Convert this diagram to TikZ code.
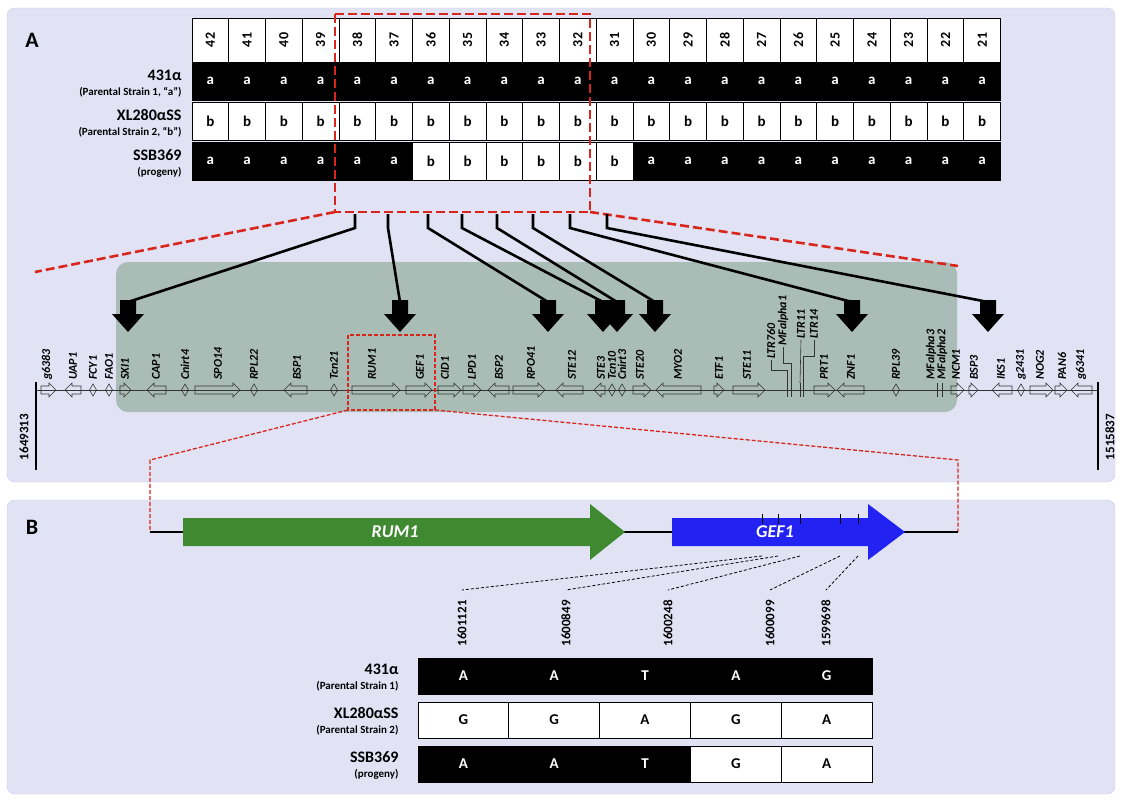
\documentclass[tikz,border=0pt]{standalone}
\usepackage{fontspec}
\setmainfont{Carlito}
\definecolor{panel}{HTML}{E1E3F5}
\definecolor{panelline}{HTML}{C9CCE6}
\definecolor{grbox}{HTML}{A9BCB5}
\definecolor{rumgreen}{HTML}{3F8A30}
\definecolor{gefblue}{HTML}{2222F2}
\definecolor{redd}{HTML}{D8261C}
\tikzset{
  cell/.style={draw=black,line width=0.8pt},
  blk/.style={cell,fill=black},
  wht/.style={cell,fill=white},
  gene/.style={draw=black!80,line width=0.6pt},
  glab/.style={rotate=90,anchor=west,inner sep=1pt,font=\bfseries\itshape\fontsize{12}{12}\selectfont},
  celltxt/.style={font=\bfseries\fontsize{15}{15}\selectfont},
  rowlab/.style={anchor=east,font=\bfseries\fontsize{16}{16}\selectfont},
  rowsub/.style={anchor=east,font=\bfseries\fontsize{11}{11}\selectfont},
  conn/.style={line width=2.6pt,black},
  redbox/.style={draw=redd,dash pattern=on 9pt off 4pt,line width=2.6pt},
  redthin/.style={draw=redd,dash pattern=on 4pt off 2pt,line width=1.3pt},
}
\newcommand\generight[2]{\draw[gene] (#1,386) -- ({max(#1,#2-7)},386) -- ({max(#1,#2-7)},383) -- (#2,390) -- ({max(#1,#2-7)},397) -- ({max(#1,#2-7)},394) -- (#1,394) -- cycle;}
\newcommand\geneleft[2]{\draw[gene] (#2,386) -- ({min(#2,#1+7)},386) -- ({min(#2,#1+7)},383) -- (#1,390) -- ({min(#2,#1+7)},397) -- ({min(#2,#1+7)},394) -- (#2,394) -- cycle;}
\newcommand\genedia[1]{\draw[gene] ({#1-3.5},390) -- (#1,384) -- ({#1+3.5},390) -- (#1,396) -- cycle;}
\newcommand\bigarrow[1]{\fill[black] ({#1-8},300) -- ({#1+8},300) -- ({#1+8},314) -- ({#1+16},314) -- (#1,332) -- ({#1-16},314) -- ({#1-8},314) -- cycle;}
\begin{document}
\begin{tikzpicture}[x=1pt,y=-1pt]
\useasboundingbox (0,0) rectangle (1122,800);
% panels
\draw[panelline,fill=panel,rounded corners=8pt] (7,8) rectangle (1115,482);
\draw[panelline,fill=panel,rounded corners=8pt] (7,500) rectangle (1115,794);
\node[font=\bfseries\fontsize{22}{22}\selectfont] (la) at (32,40) {A};
\node[font=\bfseries\fontsize{22}{22}\selectfont] (lb) at (32,527) {B};

% table A
\foreach \n [count=\i from 0] in {42,41,40,39,38,37,36,35,34,33,32,31,30,29,28,27,26,25,24,23,22,21} {
  \pgfmathsetmacro\xa{192+\i*36.75}
  \draw[wht] (\xa,18) rectangle ++(36.75,44);
  \node[rotate=90,font=\bfseries\fontsize{14}{14}\selectfont] at ({\xa+18.4},40) {\n};
  \draw[blk] (\xa,62) rectangle ++(36.75,38);
  \node[white,celltxt] at ({\xa+18.4},81) {a};
  \draw[wht] (\xa,102) rectangle ++(36.75,38);
  \node[celltxt] at ({\xa+18.4},121) {b};
  \ifnum\i<6 \draw[blk] (\xa,142) rectangle ++(36.75,38);
    \node[white,celltxt] at ({\xa+18.4},161) {a};
  \else\ifnum\i<12 \draw[wht] (\xa,142) rectangle ++(36.75,38);
    \node[celltxt] at ({\xa+18.4},161) {b};
  \else \draw[blk] (\xa,142) rectangle ++(36.75,38);
    \node[white,celltxt] at ({\xa+18.4},161) {a};
  \fi\fi
}
\node[rowlab] at (185,75) {431α};
\node[rowsub] at (185,92) {(Parental Strain 1, “a”)};
\node[rowlab] at (185,115) {XL280αSS};
\node[rowsub] at (185,132) {(Parental Strain 2, “b”)};
\node[rowlab] at (185,155) {SSB369};
\node[rowsub] at (185,172) {(progeny)};

% grey region and zoom lines
\fill[grbox,rounded corners=12pt] (116,262) rectangle (957,412);
\draw[redbox] (335,14) rectangle (590,212);
\draw[redbox] (335,212) -- (35,272);
\draw[redbox] (590,212) -- (958,266);

% gene track
\draw[black!80,line width=0.8pt] (36,390) -- (1098,390);
\draw[line width=1.6pt] (36,382) -- (36,470);
\draw[line width=1.6pt] (1098,382) -- (1098,470);
\node[rotate=90,font=\bfseries\fontsize{13}{13}\selectfont] (lpos) at (24,437) {1649313};
\node[rotate=90,font=\bfseries\fontsize{13}{13}\selectfont] (rpos) at (1110,437) {1515837};
\generight{41}{56} \geneleft{65}{81} \genedia{93} \genedia{109}
\generight{120}{131} \geneleft{147}{166} \genedia{185} \generight{195}{240}
\genedia{254} \geneleft{284}{307} \genedia{334} \generight{352}{400}
\generight{406}{432} \generight{438}{461} \generight{463}{481} \geneleft{488}{509}
\generight{513}{545} \geneleft{556}{583} \geneleft{594}{605} \genedia{612}
\genedia{622} \generight{633}{651} \geneleft{656}{701} \generight{714}{724}
\generight{733}{765} \generight{814}{835} \geneleft{837}{864} \genedia{896}
\generight{951}{964} \generight{969}{978} \geneleft{992}{1012} \genedia{1021}
\generight{1030}{1053} \generight{1055}{1067} \geneleft{1071}{1092}
\foreach \t in {787,791,800,803,937,942} \draw[gene] (\t,383) -- (\t,397);
\foreach \g/\x in {g6383/47,UAP1/73,FCY1/93,FAO1/109,SXI1/125,CAP1/156,Cnirt4/185,
  SPO14/218,RPL22/254,BSP1/297,Tcn21/334,RUM1/372,GEF1/420,CID1/445,LPD1/472,
  BSP2/499,RPO41/531,STE12/572,STE3/601,Tcn10/612,Cnirt3/622,STE20/640,MYO2/678,
  ETF1/719,STE11/747,PRT1/824,ZNF1/851,RPL39/896,MFalpha3/931,MFalpha2/942,
  NCM1/956,BSP3/974,IKS1/1001,g2431/1021,NOG2/1040,PAN6/1062,g6341/1081}
  \node[glab] at (\x,381) {\g};
% LTR / MFalpha leaders
\node[glab] (ltra) at (771,360) {LTR760};
\node[glab] (mfa) at (783,347) {MFalpha1};
\node[glab] (ltrb) at (801,340) {LTR11};
\node[glab] (ltrc) at (814,340) {LTR14};
\draw[gene] (ltra.west) -- ++(0,10) -| (787,383);
\draw[gene] (mfa.west) -- ++(0,16) -| (791,383);
\draw[gene] (ltrb.west) -- (800,383);
\draw[gene] (ltrc.west) -- ++(0,16) -| (803,383);

% big arrows and connectors
\foreach \k/\sx/\hx in {1/355/128,2/388/400,3/428/548,4/462/603,5/497/617,6/533/655,7/570/852,8/607/988} {
  \coordinate (s\k) at (\sx,214);
  \coordinate (h\k) at (\hx,302);
  \bigarrow{\hx}
}
\foreach \k in {1,...,8} \draw[conn] (s\k) -- ++(0,14) -- (h\k);

% zoom to panel B
\draw[redthin] (348,335) rectangle (435,410);
\coordinate (bl) at (150,460);
\coordinate (br) at (958,460);
\draw[redthin] (348,410) -- (bl) -- (150,532);
\draw[redthin] (435,410) -- (br) -- (958,532);

% panel B genes
\draw[line width=1.4pt] (150,532) -- (958,532);
\fill[rumgreen] (183,518) -- (590,518) -- (590,504) -- (625,532) -- (590,560) -- (590,546) -- (183,546) -- cycle;
\node[white,font=\bfseries\itshape\fontsize{18}{18}\selectfont] (rum) at (395,532) {RUM1};
\fill[gefblue] (672,518) -- (868,518) -- (868,504) -- (905,532) -- (868,560) -- (868,546) -- (672,546) -- cycle;
\node[white,font=\bfseries\itshape\fontsize{18}{18}\selectfont] (gef) at (775,532) {GEF1};
\foreach \k/\tx/\px in {1/762/462,2/778/566,3/800/668,4/840/770,5/858/826} {
  \draw[black,line width=0.8pt] (\tx,514) -- (\tx,524);
  \coordinate (t\k) at (\tx,556);
  \coordinate (p\k) at (\px,590);
  \draw[dash pattern=on 3pt off 2pt,line width=0.8pt] (t\k) -- (p\k);
}
\foreach \n/\px in {1601121/462,1600849/566,1600248/668,1600099/770,1599698/826}
  \node[rotate=90,anchor=west,font=\bfseries\fontsize{13}{13}\selectfont] at (\px,650) {\n};

% table B
\foreach \a/\b/\c [count=\i from 0] in {A/G/A,A/G/A,T/A/T,A/G/G,G/A/A} {
  \pgfmathsetmacro\xa{418+\i*90.8}
  \draw[blk] (\xa,658) rectangle ++(90.8,36);
  \node[white,celltxt] at ({\xa+45.4},676) {\a};
  \draw[wht] (\xa,702) rectangle ++(90.8,36);
  \node[celltxt] at ({\xa+45.4},720) {\b};
  \ifnum\i<3 \draw[blk] (\xa,746) rectangle ++(90.8,36);
    \node[white,celltxt] at ({\xa+45.4},764) {\c};
  \else \draw[wht] (\xa,746) rectangle ++(90.8,36);
    \node[celltxt] at ({\xa+45.4},764) {\c};
  \fi
}
\node[rowlab] at (402,669) {431α};
\node[rowsub] at (402,686) {(Parental Strain 1)};
\node[rowlab] at (402,713) {XL280αSS};
\node[rowsub] at (402,730) {(Parental Strain 2)};
\node[rowlab] at (402,757) {SSB369};
\node[rowsub] at (402,774) {(progeny)};
\end{tikzpicture}
\end{document}
